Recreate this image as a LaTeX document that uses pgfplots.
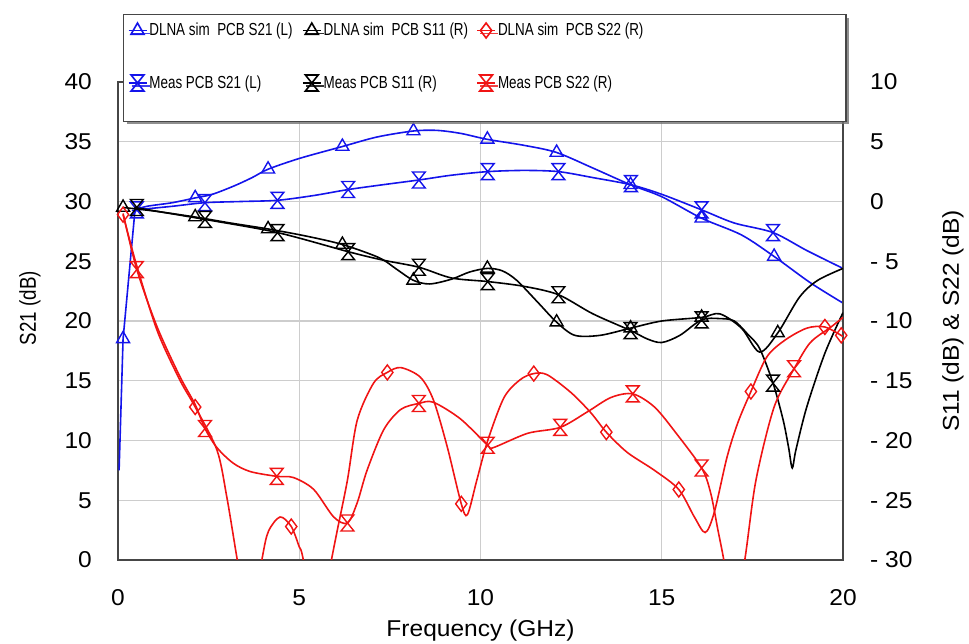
\documentclass[border=0pt]{standalone}
\usepackage{fontspec}
\setmainfont{Liberation Sans}[FakeStretch=1.07]
\newfontfamily\legfont{Liberation Sans}[FakeStretch=0.77]
\newfontfamily\narrowfont{Liberation Sans}[FakeStretch=0.82]
\usepackage{pgfplots}
\pgfplotsset{compat=1.18}
\usetikzlibrary{shadows}

\definecolor{cblue}{RGB}{20,20,235}
\definecolor{cred}{RGB}{240,20,20}
\definecolor{gridc}{RGB}{205,205,205}
\definecolor{framec}{RGB}{70,70,70}

\pgfdeclareplotmark{hourglass}{%
  \pgfpathmoveto{\pgfqpoint{-0.8\pgfplotmarksize}{\pgfplotmarksize}}%
  \pgfpathlineto{\pgfqpoint{0.8\pgfplotmarksize}{\pgfplotmarksize}}%
  \pgfpathlineto{\pgfqpoint{-0.8\pgfplotmarksize}{-\pgfplotmarksize}}%
  \pgfpathlineto{\pgfqpoint{0.8\pgfplotmarksize}{-\pgfplotmarksize}}%
  \pgfpathclose
  \pgfusepathqstroke}

\pgfplotsset{
  base/.style={scale only axis, width=725bp, height=478bp, xmin=0, xmax=20,
    major tick length=0pt,
    ticklabel style={inner sep=0pt, font=\fontsize{23}{27}\selectfont},
    label style={font=\fontsize{23}{27}\selectfont},
    /pgf/number format/assume math mode=true,
    axis line style={framec, line width=1.3bp}},
  ln/.style={line width=1.6bp, smooth, tension=0.5, no marks},
  lnb/.style={line width=1.6bp, no marks},
  mk/.style={only marks, mark options={line width=1.4bp, solid}},
  legend image code/.code={%
    \pgfpathmoveto{\pgfqpoint{0bp}{-25bp}}\pgfpathlineto{\pgfqpoint{0bp}{0bp}}\pgfusepath{discard}%
    \draw[mark repeat=2,mark phase=2,#1, line width=1.8bp, mark options={solid, line width=1.6bp}]
      plot coordinates {(0bp,5bp) (9bp,5bp) (18bp,5bp)};},
}

\begin{document}
\begin{tikzpicture}
\path[use as bounding box] (-118bp,-84bp) rectangle (851bp,560bp);

% ---------------- left axis: S21 ----------------
\begin{axis}[base, ymin=0, ymax=40,
  xtick={0,5,...,20}, ytick={0,5,...,40},
  grid=major, grid style={gridc, line width=1.2bp},
  xlabel={Frequency (GHz)}, ylabel={S21 (dB)},
  xticklabel style={anchor=base, yshift=-45bp},
  yticklabel style={anchor=east, xshift=-26bp},
  xlabel style={at={(axis description cs:0.5,-0.159)}, anchor=base},
  ylabel style={at={(axis description cs:-0.1214,0.527)}, anchor=center,
    font=\narrowfont\fontsize{23}{27}\selectfont},
]
% DLNA sim PCB S21
\addplot[lnb, cblue] coordinates {(0.03,7.5) (0.14,18.5) (0.47,29.3)};
\addplot[ln, cblue] coordinates {
(0.47,29.3) (0.8,29.6) (1.5,29.9) (2.13,30.3) (2.6,30.6) (3.2,31.3) (3.7,32.0)
(4.14,32.7) (5.0,33.6) (6.19,34.6) (7.15,35.4) (8.15,35.9) (8.8,35.95) (9.45,35.7)
(10.19,35.2) (11.2,34.7) (12.1,34.1) (13.1,32.8) (14.14,31.4) (15.0,30.4)
(16.1,28.6) (17.2,27.2) (18.1,25.4) (19.1,23.2) (20,21.5)};
\addplot[mk, cblue, mark=triangle, mark size=7.5bp] coordinates {
(0.14,18.5) (2.13,30.3) (4.14,32.7) (6.19,34.6) (8.15,35.9) (10.19,35.2)
(12.1,34.1) (14.14,31.4) (16.1,28.6) (18.1,25.4)};
% Meas PCB S21
\addplot[ln, cblue] coordinates {
(0.4,29.2) (0.52,29.3) (1.5,29.6) (2.4,29.9) (3.4,30.0) (4.4,30.1) (5.4,30.5)
(6.35,31.0) (7.3,31.4) (8.3,31.8) (9.2,32.2) (10.2,32.5) (11.2,32.6) (12.15,32.5)
(13.1,32.0) (14.15,31.4) (15.0,30.6) (16.1,29.3) (17.0,28.2) (18.07,27.4)
(19.0,25.9) (20,24.4)};
\addplot[mk, cblue, mark=hourglass, mark size=8bp] coordinates {
(0.52,29.3) (2.4,29.9) (4.4,30.1) (6.35,31.0) (8.3,31.8) (10.2,32.5)
(12.15,32.5) (14.15,31.5) (16.1,29.3) (18.07,27.4)};
\end{axis}

% ---------------- right axis: S11, S22 ----------------
\begin{axis}[base, ymin=-30, ymax=10,
  axis x line=none, axis y line*=right,
  ytick={-30,-25,...,10},
  yticklabels={- 30,- 25,- 20,- 15,- 10,- 5,0,5,10},
  yticklabel style={anchor=west, xshift=27bp},
  ylabel={S11 (dB) \& S22 (dB)},
  ylabel style={at={(axis description cs:1.1517,0.5)}, anchor=center},
  legend columns=3,
  legend style={at={(axis description cs:0.0069,1.1423)}, anchor=north west,
    draw=framec, line width=1.2bp, fill=white,
    drop shadow={shadow xshift=3bp, shadow yshift=-3bp, fill=black!55, opacity=0.8},
    inner xsep=4bp, inner ysep=8.3bp,
    font={\legfont\fontsize{17.5}{20}\selectfont},
    cells={anchor=base west}, nodes={inner sep=0pt},
    /tikz/column sep=0pt, /tikz/row sep=14.5bp},
]
% legend
\addlegendimage{cblue, mark=triangle, mark size=7.5bp}
\addlegendentry{\hspace*{2bp}\makebox[152.5bp][l]{DLNA sim\ \ PCB S21 (L)}}
\addlegendimage{black, mark=triangle, mark size=7.5bp}
\addlegendentry{\hspace*{2bp}\makebox[152.5bp][l]{DLNA sim\ \ PCB S11 (R)}}
\addlegendimage{cred, mark=diamond, mark size=7.5bp}
\addlegendentry{\hspace*{2bp}\makebox[344bp][l]{DLNA sim\ \ PCB S22 (R)}}
\addlegendimage{cblue, mark=hourglass, mark size=8bp}
\addlegendentry{\hspace*{2bp}\makebox[152.5bp][l]{Meas PCB S21 (L)}}
\addlegendimage{black, mark=hourglass, mark size=8bp}
\addlegendentry{\hspace*{2bp}\makebox[152.5bp][l]{Meas PCB S11 (R)}}
\addlegendimage{cred, mark=hourglass, mark size=8bp}
\addlegendentry{\hspace*{2bp}\makebox[344bp][l]{Meas PCB S22 (R)}}

% DLNA sim PCB S11
\addplot[ln, black, forget plot] coordinates {
(0.14,-0.5) (1.0,-0.8) (2.13,-1.3) (3.1,-1.8) (4.14,-2.3) (5.2,-2.9) (6.19,-3.6)
(7.2,-4.7) (7.7,-5.7) (8.15,-6.6) (8.6,-6.9) (9.2,-6.5) (9.7,-5.9) (10.19,-5.6)
(10.6,-5.8) (11.0,-6.6) (11.6,-8.5) (12.1,-10.1) (12.6,-11.2) (13.3,-11.2)
(14.14,-10.6) (15.0,-10.0) (16.1,-9.7) (16.6,-9.4) (17.2,-10.6) (17.7,-12.6)
(18.2,-11.0) (18.8,-8.0) (19.3,-6.6) (20,-5.6)};
\addplot[mk, black, mark=triangle, mark size=7.5bp, forget plot] coordinates {
(0.14,-0.5) (2.13,-1.3) (4.14,-2.3) (6.19,-3.6) (8.15,-6.6) (10.19,-5.6)
(12.1,-10.1) (14.14,-10.6) (16.1,-9.7) (18.2,-11.0)};
% Meas PCB S11
\addplot[ln, black, forget plot] coordinates {
(0.45,-0.5) (2.4,-1.5) (4.4,-2.6) (6.35,-4.2) (7.3,-4.9) (8.3,-5.5) (9.2,-6.4)
(10.2,-6.7) (11.2,-7.1) (12.15,-7.8) (13.1,-9.4) (14.14,-10.8) (14.6,-11.5)
(15.0,-11.8) (15.5,-11.2) (16.1,-9.9) (16.6,-9.8) (17.0,-10.0) (17.4,-11.2)
(17.7,-12.3) (18.07,-15.2) (18.35,-18.3) (18.5,-20.6) (18.6,-22.3) (18.7,-20.8)
(19.0,-17.2) (19.5,-12.7) (20,-9.3)};
\addplot[mk, black, mark=hourglass, mark size=8bp, forget plot] coordinates {
(0.52,-0.5) (2.4,-1.5) (4.4,-2.6) (6.35,-4.2) (8.3,-5.5) (10.2,-6.7)
(12.15,-7.8) (14.14,-10.8) (16.1,-9.9) (18.07,-15.2)};
% DLNA sim PCB S22
\addplot[ln, cred, forget plot] coordinates {
(0.14,-1.1) (0.5,-5.2) (1.08,-10.8) (1.7,-14.9) (2.13,-17.2) (2.73,-20.8)
(3.0,-24.7) (3.28,-29.8) (3.63,-36) (3.98,-29.8) (4.15,-27.6) (4.47,-26.4)
(4.78,-27.2) (5.0,-28.9) (5.1,-29.8) (5.5,-36) (5.9,-29.8) (6.05,-27.5)
(6.33,-23.3) (6.6,-18.3) (7.05,-15.2) (7.43,-14.3) (7.8,-13.9) (8.34,-14.7)
(8.7,-16.6) (9.08,-20.5) (9.47,-25.3) (9.64,-26.2) (9.9,-23.3) (10.2,-20.0)
(10.65,-16.4) (11.1,-14.9) (11.47,-14.4) (11.84,-14.5) (12.5,-16.0) (13.05,-17.7)
(13.47,-19.3) (14.05,-21.0) (14.8,-22.5) (15.47,-24.1) (15.9,-26.4) (16.2,-27.7)
(16.45,-26.0) (16.8,-21.4) (17.1,-18.5) (17.46,-15.9) (17.9,-13.0) (18.4,-11.6)
(19.0,-10.6) (19.5,-10.5) (20,-11.3)};
\addplot[mk, cred, mark=diamond, mark size=7.5bp, forget plot] coordinates {
(0.14,-1.1) (2.13,-17.2) (4.78,-27.2) (7.43,-14.3) (9.47,-25.3) (11.47,-14.4)
(13.47,-19.3) (15.47,-24.1) (17.46,-15.9) (19.5,-10.5) (19.95,-11.2)};
% Meas PCB S22
\addplot[ln, cred, forget plot] coordinates {
(0.14,-1.0) (0.52,-5.7) (1.08,-10.5) (1.7,-14.6) (2.13,-17.0) (2.4,-19.0)
(2.73,-20.6) (3.18,-21.9) (3.65,-22.6) (4.38,-23.0) (4.84,-23.1) (5.4,-24.1)
(5.95,-26.4) (6.33,-26.9) (6.6,-25.2) (6.87,-22.5) (7.33,-19.1) (7.8,-17.4)
(8.3,-16.9) (8.7,-16.8) (9.45,-18.2) (10.2,-20.4) (10.35,-20.6) (11.3,-19.4)
(12.2,-18.9) (12.95,-17.6) (13.6,-16.4) (14.2,-16.1) (14.8,-17.2) (15.4,-19.4)
(16.1,-22.3) (16.35,-24.4) (16.55,-27.5) (16.7,-29.8) (17.0,-35) (17.3,-29.8)
(17.6,-23.3) (18.1,-17.2) (18.65,-14.0) (19.1,-11.8) (19.67,-10.5) (20,-9.7)};
\addplot[mk, cred, mark=hourglass, mark size=8bp, forget plot] coordinates {
(0.52,-5.7) (2.4,-19.0) (4.38,-23.0) (6.33,-26.9) (8.3,-16.9) (10.2,-20.4)
(12.2,-18.9) (14.2,-16.1) (16.1,-22.3) (18.65,-14.0)};
\end{axis}
\end{tikzpicture}
\end{document}
